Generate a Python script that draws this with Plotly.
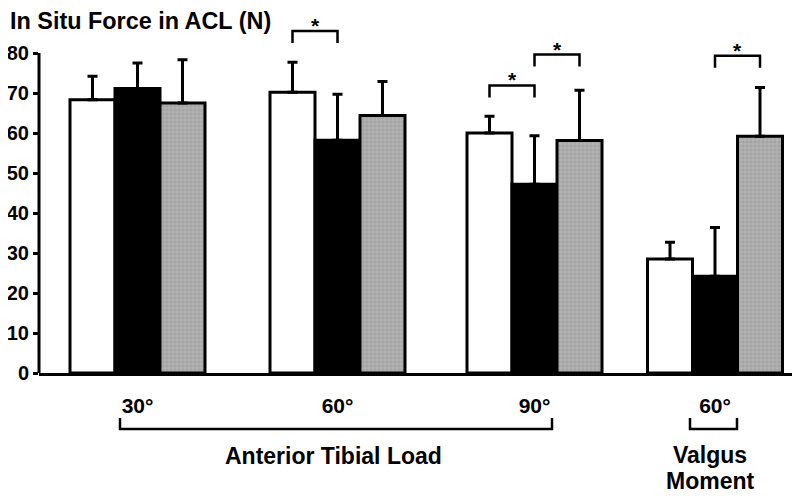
import plotly.graph_objects as go

# ---- data ----
group_labels = ["30°", "60°", "90°", "60°"]
white_vals = [68.3, 70.2, 60.0, 28.5]
white_err = [5.9, 7.5, 4.2, 4.2]
black_vals = [71.1, 58.2, 47.2, 24.2]
black_err = [6.4, 11.5, 12.1, 12.2]
gray_vals = [67.5, 64.4, 58.1, 59.2]
gray_err = [10.8, 8.5, 12.6, 12.2]

# significance brackets: (group, bar_a, bar_b)
sig_pairs = [(1, 0, 1), (2, 0, 1), (2, 1, 2), (3, 1, 2)]

# ---- layout constants ----
group_pos = [0.0, 1.0, 1.985, 2.8875]
bar_w = 0.225
sig_heights = [85.5, 71.9, 79.6, 79.3]
sig_leg = 3.0

FONT = "Liberation Sans, Arial, sans-serif"
PLOT_H = 363.0
PAGE_OFF = 8  # default body margin of the html page


def bfont(size):
    return dict(family=FONT, size=size, color="black", weight="bold")


series = [
    ("white", white_vals, white_err, dict(color="white")),
    ("black", black_vals, black_err, dict(color="black")),
    ("gray", gray_vals, gray_err,
     dict(color="#a4a4a4",
          pattern=dict(shape="+", fgcolor="#e0e0e0", size=4, solidity=0.25))),
]

fig = go.Figure()
for i, (name, vals, errs, mk) in enumerate(series):
    offset = -1.5 * bar_w + i * bar_w
    fig.add_trace(go.Bar(
        x=group_pos, y=vals, width=bar_w, offset=offset, name=name,
        marker=dict(line=dict(color="black", width=3), **mk),
        error_y=dict(type="data", array=errs, arrayminus=[0] * len(errs),
                     symmetric=False, color="black", thickness=3, width=5),
        showlegend=False,
    ))

shapes = []
annotations = []


def bar_center(g, b):
    return group_pos[g] - 1.5 * bar_w + (b + 0.5) * bar_w


for (g, a, b), h in zip(sig_pairs, sig_heights):
    xa, xb = bar_center(g, a), bar_center(g, b)
    shapes.append(dict(type="path", xref="x", yref="y",
                       path=f"M {xa},{h - sig_leg} L {xa},{h} L {xb},{h} L {xb},{h - sig_leg}",
                       line=dict(color="black", width=2.5)))
    annotations.append(dict(x=(xa + xb) / 2, y=h, xref="x", yref="y", text="*",
                            showarrow=False, yanchor="bottom", yshift=-8,
                            font=bfont(21)))

# y axis line (0..80)
shapes.append(dict(type="line", xref="paper", yref="y", x0=0, x1=0, y0=0, y1=80,
                   line=dict(color="black", width=3)))


def px_to_x(px):
    return (px - 137.5) / 200.0


def py_to_paper(py):
    return -(py - 373.0) / PLOT_H


b_top = py_to_paper(418)
b_bot = py_to_paper(429)
for x0p, x1p in [(120, 552), (690, 737)]:
    x0, x1 = px_to_x(x0p), px_to_x(x1p)
    shapes.append(dict(type="path", xref="x", yref="paper",
                       path=f"M {x0},{b_top} L {x0},{b_bot} L {x1},{b_bot} L {x1},{b_top}",
                       line=dict(color="black", width=2.5)))

annotations.append(dict(x=px_to_x(333), y=py_to_paper(456), xref="x", yref="paper",
                        yanchor="middle", text="Anterior Tibial Load", showarrow=False,
                        font=bfont(23)))
annotations.append(dict(x=px_to_x(710), y=py_to_paper(455), xref="x", yref="paper",
                        yanchor="middle", text="Valgus", showarrow=False, font=bfont(23)))
annotations.append(dict(x=px_to_x(710), y=py_to_paper(481), xref="x", yref="paper",
                        yanchor="middle", text="Moment", showarrow=False, font=bfont(23)))
annotations.append(dict(x=(8 - 39) / 761.0, y=py_to_paper(21), xref="paper", yref="paper",
                        xanchor="left", yanchor="middle",
                        text="In Situ Force in ACL (N)", showarrow=False, font=bfont(23.4)))

fig.update_layout(
    width=800, height=496,
    margin=dict(l=39 - PAGE_OFF, r=PAGE_OFF, t=10 - PAGE_OFF, b=123 + PAGE_OFF,
                autoexpand=False),
    plot_bgcolor="white", paper_bgcolor="white",
    barmode="overlay",
    shapes=shapes, annotations=annotations,
    xaxis=dict(range=[px_to_x(39), px_to_x(800)], showgrid=False, zeroline=False,
               showline=True, linecolor="black", linewidth=3,
               tickvals=group_pos, ticktext=group_labels,
               ticks="outside", ticklen=12, tickcolor="rgba(0,0,0,0)",
               tickfont=bfont(21), automargin=False),
    yaxis=dict(range=[0, PLOT_H / 4], showgrid=False, zeroline=False, showline=False,
               tickvals=[0, 10, 20, 30, 40, 50, 60, 70, 80],
               ticks="outside", ticklen=5, tickwidth=3, tickcolor="black",
               tickfont=bfont(20), automargin=False),
)

fig.write_html("out.html")
